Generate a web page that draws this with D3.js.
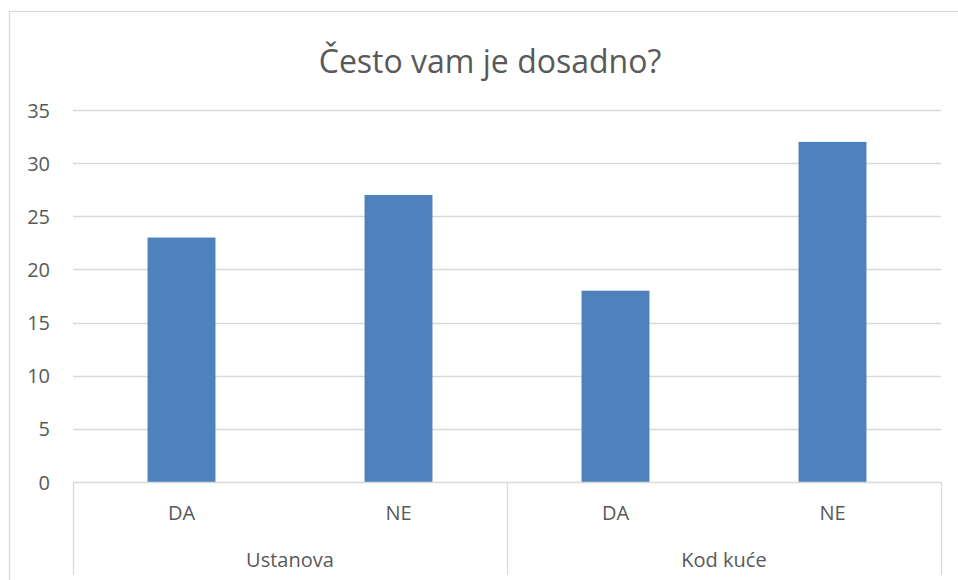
<!DOCTYPE html>
<html>
<head>
<meta charset="utf-8">
<script src="https://cdn.jsdelivr.net/npm/d3@7"></script>
<style>
  body { margin: 0; background: #fff; }
  text { font-family: "Open Sans", "DejaVu Sans", sans-serif; fill: #595959; }
</style>
</head>
<body>
<div id="chart"></div>
<script>
// data
var groups = ["Ustanova", "Kod kuće"];
var answers = ["DA", "NE"];
var ustanova = [23, 27];
var kodKuce = [18, 32];
var yTicks = [0, 5, 10, 15, 20, 25, 30, 35];
var title = "Često vam je dosadno?";

var svgWidth = 958;
var svgHeight = 580;

var plot = { left: 73, right: 941, top: 110, bottom: 482 };

var rows = [];
[ustanova, kodKuce].forEach(function(vals, gi) {
    vals.forEach(function(v, ai) {
        rows.push({ group: groups[gi], answer: answers[ai], value: v });
    });
});

var svg = d3.select("#chart")
    .append("svg")
    .attr("width", svgWidth)
    .attr("height", svgHeight);

// chart border
svg.append("rect")
    .attr("x", 9.5)
    .attr("y", 11.5)
    .attr("width", 960)
    .attr("height", 600)
    .attr("fill", "none")
    .attr("stroke", "#d9d9d9")
    .attr("stroke-width", 1.3);

var xGroup = d3.scaleBand()
    .domain(groups)
    .range([plot.left, plot.right]);

var xInner = d3.scaleBand()
    .domain(answers)
    .range([0, xGroup.bandwidth()])
    .paddingInner(0.687)
    .paddingOuter(0.3435);

var y = d3.scaleLinear()
    .domain([0, 35])
    .range([plot.bottom, plot.top]);

// gridlines
svg.append("g")
    .selectAll("line")
    .data(yTicks.slice(1))
    .enter()
    .append("line")
    .attr("x1", plot.left)
    .attr("x2", plot.right)
    .attr("y1", d => Math.round(y(d)) + 0.5)
    .attr("y2", d => Math.round(y(d)) + 0.5)
    .attr("stroke", "#d9d9d9")
    .attr("stroke-width", 1.3);

// y labels
var yAxis = d3.axisLeft(y).tickValues(yTicks).tickSize(0).tickPadding(23);
var yg = svg.append("g")
    .attr("transform", `translate(${plot.left}, 0)`)
    .call(yAxis);
yg.select(".domain").remove();
yg.selectAll("text")
    .attr("font-size", "20px")
    .attr("dy", "0.35em")
    .style("font-family", null);
yg.attr("font-family", null);

// bars
svg.append("g")
    .selectAll("rect")
    .data(rows)
    .enter()
    .append("rect")
    .attr("x", d => xGroup(d.group) + xInner(d.answer))
    .attr("width", xInner.bandwidth())
    .attr("y", d => y(d.value))
    .attr("height", d => y(0) - y(d.value))
    .attr("fill", "#4f81bd");

// category axis line + separators
svg.append("line")
    .attr("x1", plot.left)
    .attr("x2", plot.right)
    .attr("y1", plot.bottom + 0.5)
    .attr("y2", plot.bottom + 0.5)
    .attr("stroke", "#d9d9d9")
    .attr("stroke-width", 1.3);

var seps = groups.map(g => xGroup(g)).concat([plot.right]);
svg.append("g")
    .selectAll("line")
    .data(seps)
    .enter()
    .append("line")
    .attr("x1", d => Math.round(d) + 0.5)
    .attr("x2", d => Math.round(d) + 0.5)
    .attr("y1", plot.bottom)
    .attr("y2", 575)
    .attr("stroke", "#d9d9d9")
    .attr("stroke-width", 1.3);

// inner labels
svg.append("g")
    .selectAll("text")
    .data(rows)
    .enter()
    .append("text")
    .attr("x", d => xGroup(d.group) + xInner(d.answer) + xInner.bandwidth() / 2)
    .attr("y", 520)
    .attr("text-anchor", "middle")
    .attr("font-size", "20px")
    .text(d => d.answer);

// group labels
svg.append("g")
    .selectAll("text")
    .data(groups)
    .enter()
    .append("text")
    .attr("x", d => xGroup(d) + xGroup.bandwidth() / 2)
    .attr("y", 567)
    .attr("text-anchor", "middle")
    .attr("font-size", "20px")
    .text(d => d);

// title
svg.append("text")
    .attr("x", 490)
    .attr("y", 73)
    .attr("text-anchor", "middle")
    .attr("font-size", "32px")
    .text(title);
</script>
</body>
</html>
